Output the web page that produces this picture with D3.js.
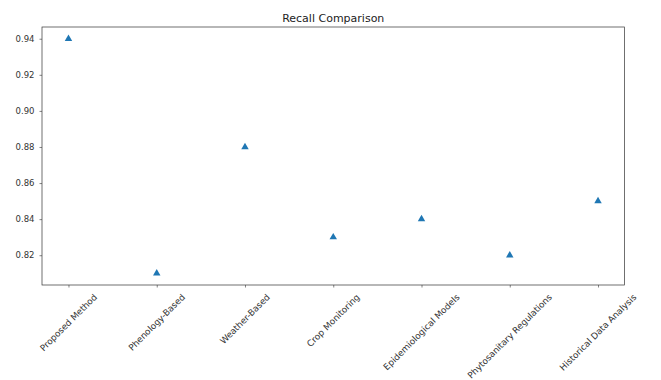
<!DOCTYPE html>
<html>
<head>
<meta charset="utf-8">
<script src="https://cdn.jsdelivr.net/npm/d3@7"></script>
<style>
  html, body { margin: 0; padding: 0; background: #fff; }
  svg { display: block; font-family: "DejaVu Sans", sans-serif; }
</style>
</head>
<body>
<svg id="chart" width="661" height="380"></svg>
<script>
// Recall score per method
const methods = [
  "Proposed Method",
  "Phenology-Based",
  "Weather-Based",
  "Crop Monitoring",
  "Epidemiological Models",
  "Phytosanitary Regulations",
  "Historical Data Analysis"
];
const recall = [0.94, 0.81, 0.88, 0.83, 0.84, 0.82, 0.85];
const yTicks = [0.82, 0.84, 0.86, 0.88, 0.90, 0.92, 0.94];

const W = 661, H = 380;
const margin = { left: 42, right: 36.5, top: 27, bottom: 95 };
const svg = d3.select("#chart");

// padded domains (5% on each side)
const n = methods.length;
const xPad = (n - 1) * 0.05;
const yMin = d3.min(recall), yMax = d3.max(recall);
const yPad = (yMax - yMin) * 0.05;

const x = d3.scaleLinear()
  .domain([-xPad, n - 1 + xPad])
  .range([margin.left, W - margin.right]);
const y = d3.scaleLinear()
  .domain([yMin - yPad, yMax + yPad])
  .range([H - margin.bottom, margin.top]);

const fg = "#333";

// y axis
const yAxis = svg.append("g")
  .attr("transform", `translate(${margin.left},0)`)
  .call(d3.axisLeft(y).tickValues(yTicks).tickFormat(d3.format(".2f")).tickSize(2.5).tickPadding(5));
yAxis.select(".domain").remove();
yAxis.selectAll("line").attr("stroke", fg).attr("stroke-width", 0.6);
yAxis.selectAll("text").attr("font-size", 8.5).attr("fill", fg)
  .attr("font-family", "DejaVu Sans, sans-serif");

// x axis: ticks only, labels drawn rotated below
const xAxis = svg.append("g")
  .attr("transform", `translate(0,${H - margin.bottom})`)
  .call(d3.axisBottom(x).tickValues(d3.range(n)).tickFormat("").tickSize(2.5));
xAxis.select(".domain").remove();
xAxis.selectAll("line").attr("stroke", fg).attr("stroke-width", 0.6);

// rotated category labels, centred under each tick
const fs = 8.8;
const labelTop = H - margin.bottom + 7;
const lab = svg.append("g").selectAll("text")
  .data(methods)
  .join("text")
  .attr("font-size", fs)
  .attr("fill", fg)
  .attr("text-anchor", "middle")
  .attr("dominant-baseline", "central")
  .text(d => d);
lab.each(function(d, i) {
  const L = this.getComputedTextLength();
  const h = (L + fs * 1.15) * Math.SQRT1_2;
  d3.select(this).attr("transform",
    `translate(${x(i)},${labelTop + h / 2}) rotate(-45)`);
});

// frame
svg.append("rect")
  .attr("x", margin.left).attr("y", margin.top)
  .attr("width", W - margin.left - margin.right)
  .attr("height", H - margin.top - margin.bottom)
  .attr("fill", "none").attr("stroke", fg).attr("stroke-width", 0.7);

// markers
const tri = d3.symbol().type(d3.symbolTriangle).size(24);
svg.append("g").selectAll("path")
  .data(recall)
  .join("path")
  .attr("d", tri)
  .attr("transform", (d, i) => `translate(${x(i)},${y(d)})`)
  .attr("fill", "#1f77b4");

// title
svg.append("text")
  .attr("x", (margin.left + W - margin.right) / 2)
  .attr("y", 22)
  .attr("text-anchor", "middle")
  .attr("font-size", 11)
  .attr("fill", "#222")
  .text("Recall Comparison");
</script>
</body>
</html>
